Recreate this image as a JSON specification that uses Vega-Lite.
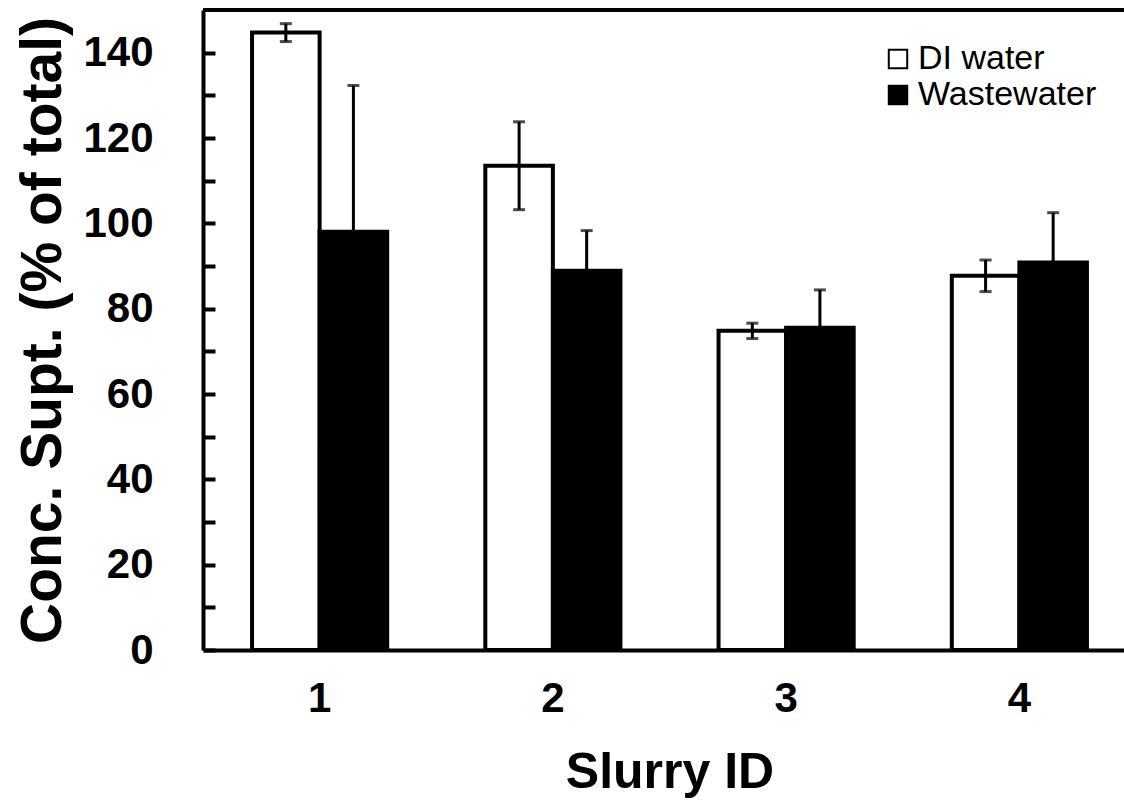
{
  "$schema": "https://vega.github.io/schema/vega-lite/v6.json",
  "autosize": {"type": "none"},
  "width": 921,
  "height": 640,
  "padding": {"left": 203, "top": 10, "right": 0, "bottom": 159},
  "background": "white",
  "config": {
    "view": {"stroke": null},
    "font": "Liberation Sans",
    "axis": {"domainColor": "black", "tickColor": "black", "labelColor": "black", "titleColor": "black", "grid": false}
  },
  "data": {
    "values": [
      {"slurry": "1", "water": "DI water", "mean": 144.7, "err": 2.1},
      {"slurry": "1", "water": "Wastewater", "mean": 98.0, "err": 34.3},
      {"slurry": "2", "water": "DI water", "mean": 113.5, "err": 10.3},
      {"slurry": "2", "water": "Wastewater", "mean": 88.9, "err": 9.4},
      {"slurry": "3", "water": "DI water", "mean": 74.8, "err": 1.8},
      {"slurry": "3", "water": "Wastewater", "mean": 75.5, "err": 8.9},
      {"slurry": "4", "water": "DI water", "mean": 87.7, "err": 3.7},
      {"slurry": "4", "water": "Wastewater", "mean": 90.8, "err": 11.7}
    ]
  },
  "transform": [
    {"calculate": "datum.mean + datum.err", "as": "hi"},
    {"calculate": "datum.mean - datum.err", "as": "lo"}
  ],
  "encoding": {
    "x": {
      "field": "slurry", "type": "nominal",
      "scale": {"range": [0, 933], "paddingInner": 0, "paddingOuter": 0},
      "axis": {
        "title": "Slurry ID", "titleFontSize": 50, "titleFontWeight": "bold", "titlePadding": 28,
        "labelFontSize": 42, "labelFontWeight": "bold", "labelPadding": 28, "labelAngle": 0,
        "ticks": false, "domainWidth": 4
      }
    },
    "xOffset": {
      "field": "water", "type": "nominal",
      "scale": {"paddingInner": 0, "paddingOuter": 0.726}
    }
  },
  "layer": [
    {
      "mark": {"type": "bar", "stroke": "black", "strokeWidth": 4},
      "encoding": {
        "y": {
          "field": "mean", "type": "quantitative",
          "scale": {"domain": [0, 150], "nice": false},
          "axis": {
            "title": "Conc. Supt. (% of total)", "titleFontSize": 57, "titleFontWeight": "bold", "titlePadding": 10,
            "values": [0, 10, 20, 30, 40, 50, 60, 70, 80, 90, 100, 110, 120, 130, 140],
            "labelExpr": "datum.value % 20 == 0 ? datum.label : ''",
            "labelFontSize": 42, "labelFontWeight": "bold", "labelPadding": 62,
            "tickSize": -12, "tickWidth": 4, "domainWidth": 4
          }
        },
        "fill": {
          "field": "water", "type": "nominal",
          "scale": {"domain": ["DI water", "Wastewater"], "range": ["white", "black"]},
          "legend": {
            "orient": "none", "legendX": 678, "legendY": 32, "title": null,
            "symbolType": "square", "symbolSize": 340, "symbolStrokeColor": "black", "symbolStrokeWidth": 2,
            "labelFontSize": 34, "labelOffset": 3, "rowPadding": 2, "padding": 0, "labelLimit": 400
          }
        }
      }
    },
    {
      "mark": {"type": "rule", "color": "black", "strokeWidth": 3},
      "encoding": {
        "y": {"field": "lo", "type": "quantitative"},
        "y2": {"field": "hi"}
      }
    },
    {
      "mark": {"type": "tick", "color": "black", "thickness": 3, "size": 12},
      "encoding": {"y": {"field": "hi", "type": "quantitative"}}
    },
    {
      "mark": {"type": "tick", "color": "black", "thickness": 3, "size": 12},
      "encoding": {"y": {"field": "lo", "type": "quantitative"}}
    },
    {
      "mark": {"type": "rule", "color": "black", "strokeWidth": 4},
      "encoding": {"y": {"datum": 150}, "x": null, "xOffset": null}
    }
  ]
}
